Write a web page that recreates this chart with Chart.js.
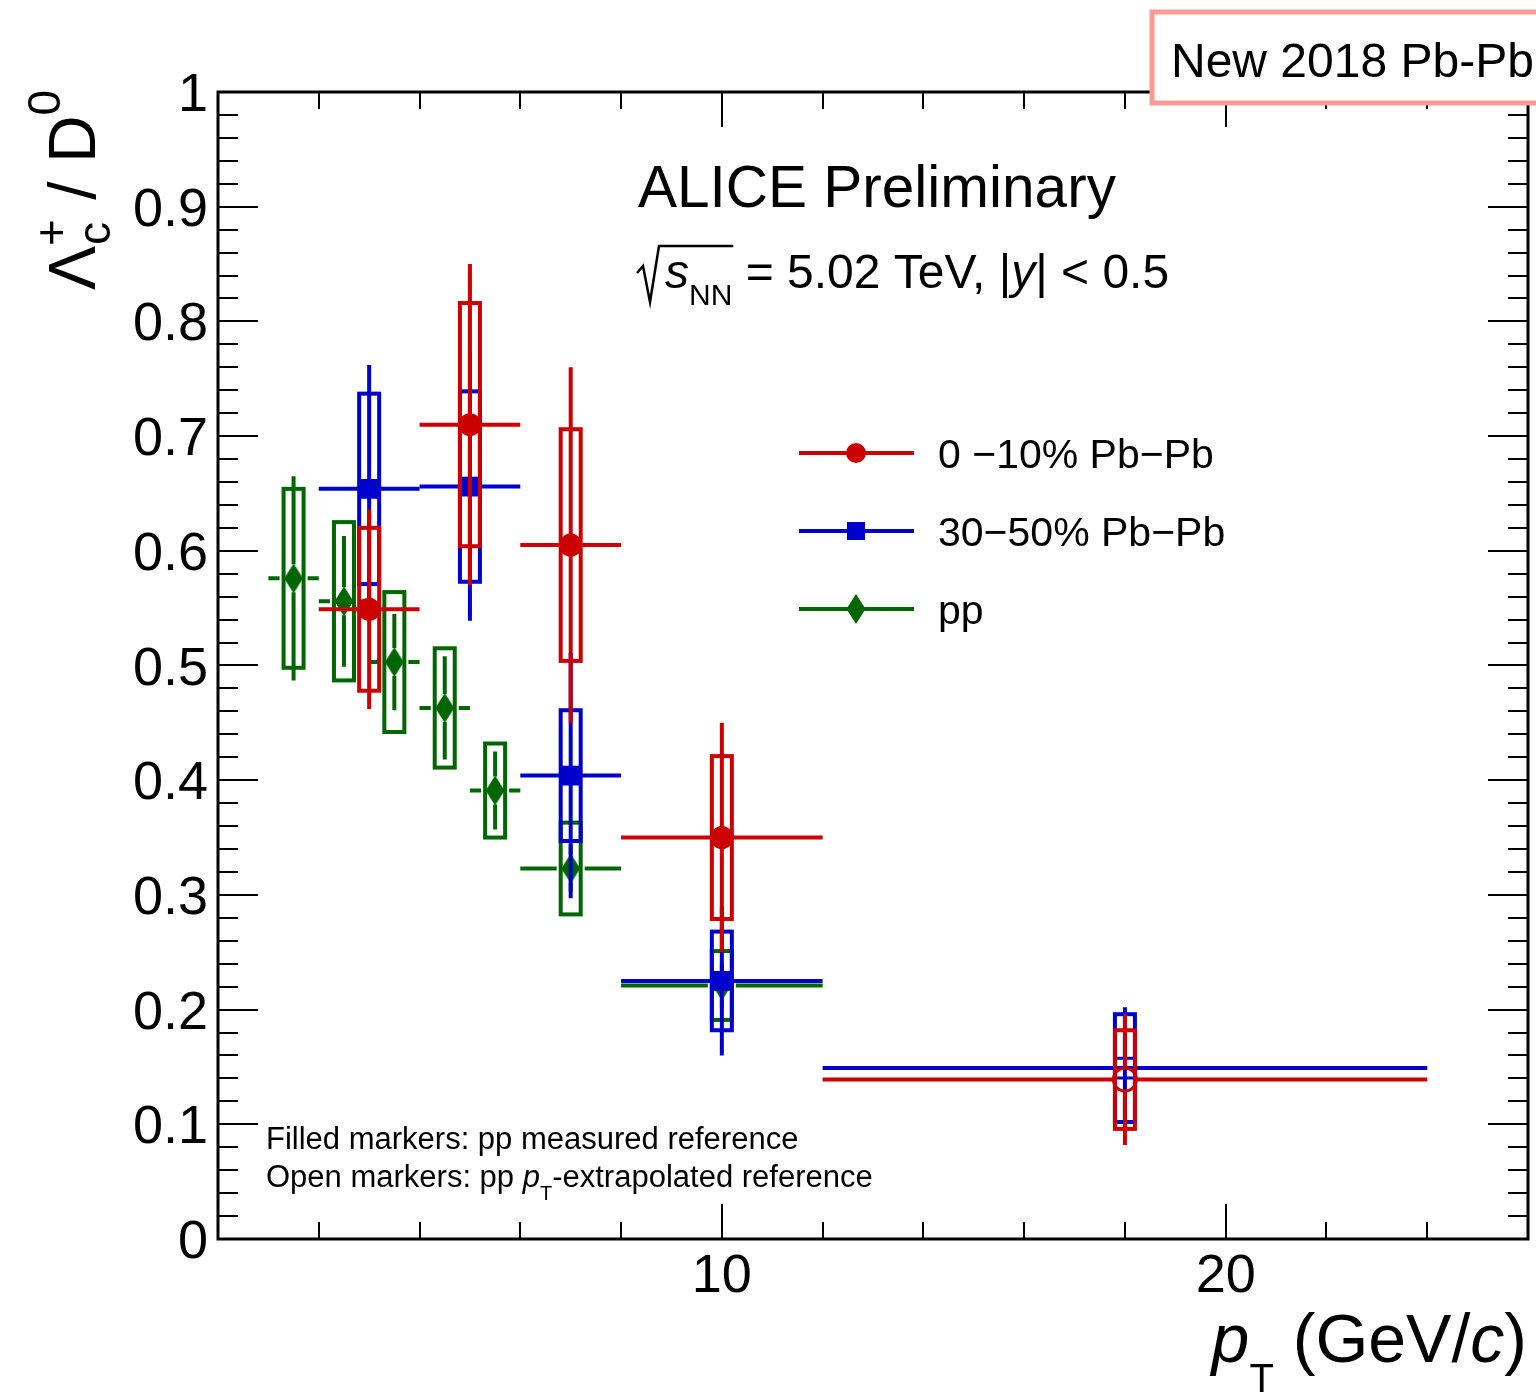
<!DOCTYPE html>
<html>
<head>
<meta charset="utf-8">
<title>Lambda_c / D0 ratio vs pT</title>
<script src="https://cdn.jsdelivr.net/npm/chart.js@4.4.0/dist/chart.umd.min.js"></script>
<style>
  html, body { margin: 0; padding: 0; background: #fff; overflow: hidden; }
  #wrap { width: 1536px; height: 1395px; }
</style>
</head>
<body>
<div id="wrap"><canvas id="ratio" width="1536" height="1395"></canvas></div>
<script>
// pT bins (GeV/c): centres and half widths
const ptPbPb = [3, 5, 7, 10, 18];
const ptPbPbHalf = [1, 1, 1, 2, 6];
const ptPP = [1.5, 2.5, 3.5, 4.5, 5.5, 7, 10];
const ptPPHalf = [0.5, 0.5, 0.5, 0.5, 0.5, 1, 2];

// 0-10% Pb-Pb
const central = [0.549, 0.710, 0.605, 0.350, 0.139];
const centralStat = [0.087, 0.140, 0.155, 0.100, 0.057];
const centralSys = [0.071, 0.106, 0.101, 0.071, 0.043];

// 30-50% Pb-Pb
const semi = [0.654, 0.656, 0.404, 0.225, 0.149];
const semiStat = [0.108, 0.117, 0.107, 0.065, 0.053];
const semiSys = [0.083, 0.083, 0.057, 0.043, 0.047];

// pp
const pp = [0.576, 0.556, 0.503, 0.463, 0.391, 0.323, 0.221];
const ppStat = [0.089, 0.057, 0.042, 0.045, 0.034, 0.020, 0.020];
const ppSys = [0.078, 0.069, 0.061, 0.052, 0.041, 0.040, 0.030];

// last Pb-Pb bin uses the pT-extrapolated pp reference (open markers)
const openPbPb = [false, false, false, false, true];

const yTicks = [0, 0.1, 0.2, 0.3, 0.4, 0.5, 0.6, 0.7, 0.8, 0.9, 1];
const yTickLabels = ['0', '0.1', '0.2', '0.3', '0.4', '0.5', '0.6', '0.7', '0.8', '0.9', '1'];
const xTicks = [10, 20];
const xTickLabels = ['10', '20'];

const RED = '#cc0000', BLUE = '#0000cc', GREEN = '#006600';
const FONT = '"Liberation Sans", Arial, Helvetica, sans-serif';
function font(size, italic) { return (italic ? 'italic ' : '') + size + 'px ' + FONT; }

// elongated diamond marker for pp
function diamond(color) {
    const c = document.createElement('canvas');
    c.width = 20; c.height = 30;
    const g = c.getContext('2d');
    g.fillStyle = color;
    g.beginPath();
    g.moveTo(10, 0); g.lineTo(19.5, 15); g.lineTo(10, 30); g.lineTo(0.5, 15);
    g.closePath(); g.fill();
    return c;
}
const ppMarker = diamond(GREEN);

function points(xs, ys) { return xs.map((x, i) => ({ x: x, y: ys[i] })); }

// text made of runs: [text, size, italic, dy]
function runsWidth(ctx, runs) {
    let w = 0;
    runs.forEach(r => { ctx.font = font(r[1], r[2]); w += ctx.measureText(r[0]).width; });
    return w;
}
function drawRuns(ctx, x, y, runs) {
    runs.forEach(r => {
        ctx.font = font(r[1], r[2]);
        ctx.fillText(r[0], x, y + (r[3] || 0));
        x += ctx.measureText(r[0]).width;
    });
    return x;
}

// sys boxes, stat bars and bin widths, drawn just before each dataset's markers
const errorBars = {
    id: 'errorBars',
    beforeDatasetDraw(chart, args) {
        const ds = chart.data.datasets[args.index];
        const e = ds.errors;
        const ctx = chart.ctx, xs = chart.scales.x, ys = chart.scales.y;
        ctx.save();
        ctx.strokeStyle = ds.borderColor;
        ctx.lineWidth = 4;
        ds.data.forEach((p, i) => {
            const px = xs.getPixelForValue(p.x);
            const top = ys.getPixelForValue(p.y + e.sys[i]);
            const bot = ys.getPixelForValue(p.y - e.sys[i]);
            ctx.strokeRect(px - 10, top, 20, bot - top);
        });
        ds.data.forEach((p, i) => {
            const px = xs.getPixelForValue(p.x), py = ys.getPixelForValue(p.y);
            const x0 = xs.getPixelForValue(p.x - e.half[i]);
            const x1 = xs.getPixelForValue(p.x + e.half[i]);
            const y0 = ys.getPixelForValue(p.y + e.stat[i]);
            const y1 = ys.getPixelForValue(p.y - e.stat[i]);
            const g = (e.open && e.open[i]) ? e.openGap : e.gap;
            ctx.beginPath();
            if (x0 < px - g) { ctx.moveTo(x0, py); ctx.lineTo(px - g, py); }
            if (x1 > px + g) { ctx.moveTo(px + g, py); ctx.lineTo(x1, py); }
            if (y0 < py - g) { ctx.moveTo(px, y0); ctx.lineTo(px, py - g); }
            if (y1 > py + g) { ctx.moveTo(px, py + g); ctx.lineTo(px, y1); }
            ctx.stroke();
        });
        ctx.restore();
    }
};

// frame with inward ticks, labels, titles and legend
const decorations = {
    id: 'decorations',
    afterDraw(chart) {
        const ctx = chart.ctx, a = chart.chartArea;
        const xs = chart.scales.x, ys = chart.scales.y;
        ctx.save();
        ctx.strokeStyle = '#000';
        ctx.fillStyle = '#000';

        // ticks
        ctx.lineWidth = 2;
        ctx.beginPath();
        for (let v = 0; v <= 1.0001; v += 0.02) {
            const y = Math.round(ys.getPixelForValue(v));
            const major = Math.abs(v * 10 - Math.round(v * 10)) < 1e-6;
            const len = major ? 40 : 20;
            ctx.moveTo(a.left, y); ctx.lineTo(a.left + len, y);
            ctx.moveTo(a.right, y); ctx.lineTo(a.right - len, y);
        }
        for (let v = 2; v < 26; v += 2) {
            const x = Math.round(xs.getPixelForValue(v));
            const len = xTicks.includes(v) ? 35 : 17;
            ctx.moveTo(x, a.bottom); ctx.lineTo(x, a.bottom - len);
            ctx.moveTo(x, a.top); ctx.lineTo(x, a.top + len);
        }
        ctx.stroke();

        ctx.lineWidth = 3;
        ctx.strokeRect(a.left, a.top, a.right - a.left, a.bottom - a.top);

        // tick labels
        ctx.font = font(54);
        ctx.textAlign = 'right';
        yTicks.forEach((v, i) => {
            ctx.fillText(yTickLabels[i], a.left - 10, ys.getPixelForValue(v) + 19);
        });
        ctx.textAlign = 'center';
        xTicks.forEach((v, i) => {
            ctx.fillText(xTickLabels[i], xs.getPixelForValue(v), a.bottom + 53);
        });
        ctx.textAlign = 'left';

        // x title
        const xt = [['p', 68, true], ['T', 40, false, 30], [' (GeV/', 68], ['c', 68, true], [')', 68]];
        drawRuns(ctx, a.right - runsWidth(ctx, xt) - 1, 1362, xt);

        // y title, rotated
        ctx.save();
        ctx.translate(95, 290);
        ctx.rotate(-Math.PI / 2);
        let tx = drawRuns(ctx, 0, 0, [['Λ', 66]]);
        ctx.font = font(46);
        ctx.fillText('c', tx + 1, 15);
        ctx.fillText('+', tx, -28);
        tx += ctx.measureText('+').width + 1;
        drawRuns(ctx, tx, 0, [[' / D', 66], ['0', 46, false, -35]]);
        ctx.restore();

        // experiment labels
        ctx.font = font(58.5);
        ctx.fillText('ALICE Preliminary', 638, 207);
        let sx = drawRuns(ctx, 665, 288, [['s', 48, true]]);
        sx = drawRuns(ctx, sx, 288, [['NN', 30, false, 17]]);
        ctx.lineWidth = 2.5;
        ctx.beginPath();
        ctx.moveTo(637, 273); ctx.lineTo(643, 266); ctx.lineTo(650, 302);
        ctx.lineTo(659, 246); ctx.lineTo(sx + 1, 246);
        ctx.stroke();
        drawRuns(ctx, sx, 288, [[' = 5.02 TeV, |', 48], ['y', 48, true], ['| < 0.5', 48]]);

        // legend
        const entries = [
            { label: '0 \u221210% Pb\u2212Pb', color: RED, mark: 'circle' },
            { label: '30\u221250% Pb\u2212Pb', color: BLUE, mark: 'square' },
            { label: 'pp', color: GREEN, mark: 'diamond' }
        ];
        entries.forEach((en, i) => {
            const y = 453 + i * 78;
            ctx.strokeStyle = en.color; ctx.fillStyle = en.color; ctx.lineWidth = 4;
            ctx.beginPath(); ctx.moveTo(799, y); ctx.lineTo(914, y); ctx.stroke();
            if (en.mark === 'circle') {
                ctx.beginPath(); ctx.arc(856, y, 10, 0, Math.PI * 2); ctx.fill();
            } else if (en.mark === 'square') {
                ctx.fillRect(847, y - 9, 18, 18);
            } else {
                ctx.drawImage(ppMarker, 846, y - 15);
            }
            ctx.fillStyle = '#000';
            ctx.font = font(41);
            ctx.fillText(en.label, 938, y + 15);
        });

        // note on the references
        ctx.font = font(31);
        ctx.fillText('Filled markers: pp measured reference', 266, 1149);
        drawRuns(ctx, 266, 1187, [['Open markers: pp ', 31], ['p', 31, true], ['T', 20, false, 13], ['-extrapolated reference', 31]]);

        // data-taking tag
        ctx.fillStyle = '#fff';
        ctx.fillRect(1152, 12, 400, 91);
        ctx.strokeStyle = '#ff9a94';
        ctx.lineWidth = 5;
        ctx.strokeRect(1152, 12, 400, 91);
        ctx.fillStyle = '#000';
        ctx.font = font(48);
        ctx.fillText('New 2018 Pb-Pb', 1171, 77);

        ctx.restore();
    }
};

new Chart(document.getElementById('ratio'), {
    type: 'scatter',
    data: {
        datasets: [
            {
                label: '0-10% Pb-Pb',
                data: points(ptPbPb, central),
                borderColor: RED,
                pointStyle: 'circle',
                pointRadius: 11.5,
                pointBackgroundColor: openPbPb.map(o => o ? 'rgba(0,0,0,0)' : RED),
                pointBorderColor: RED,
                pointBorderWidth: openPbPb.map(o => o ? 3 : 0),
                errors: { half: ptPbPbHalf, stat: centralStat, sys: centralSys, open: openPbPb, gap: 0, openGap: 11 }
            },
            {
                label: '30-50% Pb-Pb',
                data: points(ptPbPb, semi),
                borderColor: BLUE,
                pointStyle: 'rect',
                pointRadius: 14,
                pointBackgroundColor: openPbPb.map(o => o ? 'rgba(0,0,0,0)' : BLUE),
                pointBorderColor: BLUE,
                pointBorderWidth: openPbPb.map(o => o ? 3 : 0),
                errors: { half: ptPbPbHalf, stat: semiStat, sys: semiSys, open: openPbPb, gap: 0, openGap: 0 }
            },
            {
                label: 'pp',
                data: points(ptPP, pp),
                borderColor: GREEN,
                pointStyle: ppMarker,
                pointRadius: 12,
                errors: { half: ptPPHalf, stat: ppStat, sys: ppSys, gap: 14 }
            }
        ]
    },
    options: {
        responsive: false,
        animation: false,
        events: [],
        layout: { autoPadding: false, padding: { left: 218, top: 92, right: 8, bottom: 156 } },
        scales: {
            x: { type: 'linear', min: 0, max: 26, display: false },
            y: { type: 'linear', min: 0, max: 1, display: false }
        },
        plugins: {
            legend: { display: false },
            tooltip: { enabled: false }
        }
    },
    plugins: [errorBars, decorations]
});
</script>
</body>
</html>
